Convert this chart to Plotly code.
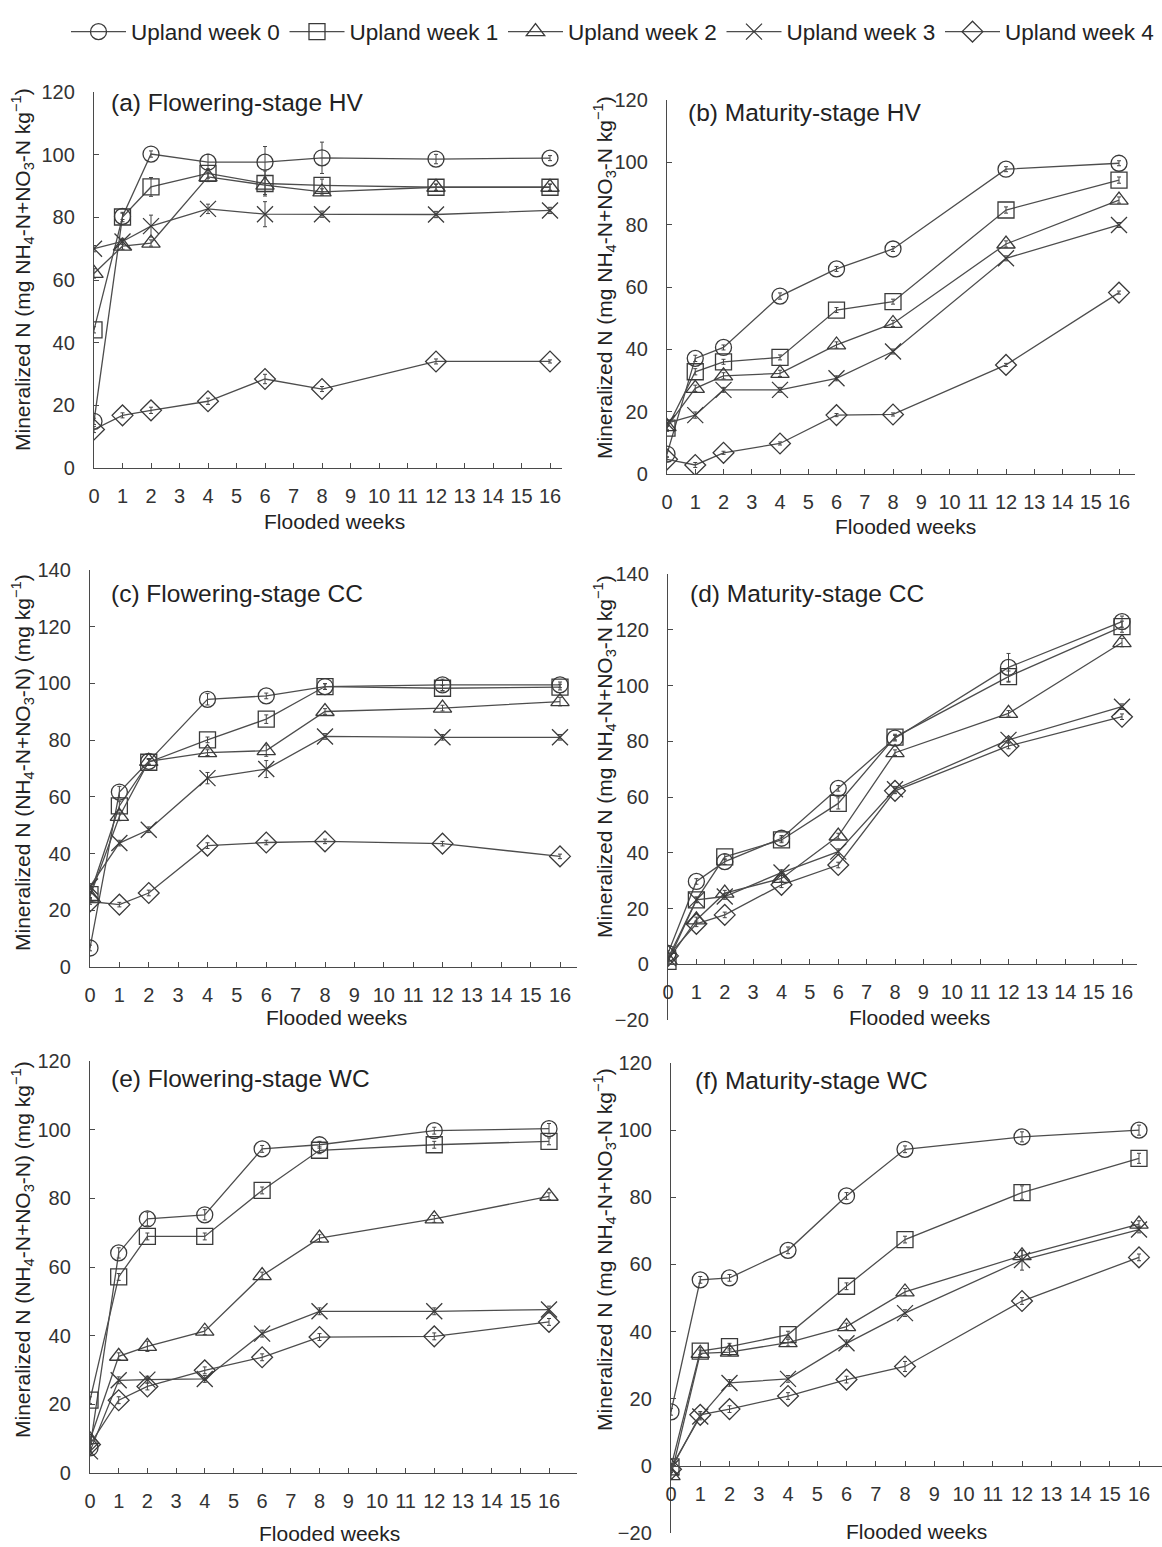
import plotly.graph_objects as go

W, H = 1162, 1547

weeks = [0, 1, 2, 4, 6, 8, 12, 16]
series_names = ["Upland week 0", "Upland week 1", "Upland week 2", "Upland week 3", "Upland week 4"]
symbols = ["circle-open", "square-open", "triangle-up-open", "x-thin-open", "diamond-open"]

# (a) Flowering-stage HV
a_week0 = [14.9, 80.3, 100.2, 97.6, 97.6, 99.0, 98.6, 98.9]
a_week1 = [44.1, 80.1, 89.7, 94.0, 90.8, 90.2, 89.6, 89.6]
a_week2 = [62.1, 70.8, 71.8, 92.9, 90.3, 88.1, 89.6, 89.6]
a_week3 = [70.0, 72.3, 77.2, 82.7, 81.0, 81.0, 80.9, 82.2]
a_week4 = [12.3, 16.8, 18.4, 21.3, 28.4, 25.2, 34.0, 34.0]
# (b) Maturity-stage HV
b_week0 = [6.4, 37.1, 40.6, 57.1, 65.8, 72.2, 97.8, 99.7]
b_week1 = [14.7, 32.8, 36.0, 37.4, 52.6, 55.3, 84.7, 94.3]
b_week2 = [15.2, 27.5, 31.5, 32.3, 41.4, 48.3, 73.8, 87.9]
b_week3 = [16.3, 18.9, 27.0, 27.0, 30.7, 39.3, 69.2, 79.9]
b_week4 = [4.7, 2.9, 6.8, 9.8, 18.9, 19.1, 35.0, 58.2]
# (c) Flowering-stage CC
c_week0 = [6.7, 61.7, 72.5, 94.4, 95.6, 98.9, 99.5, 99.5]
c_week1 = [25.5, 56.8, 72.2, 80.1, 87.4, 98.9, 98.3, 98.7]
c_week2 = [24.9, 53.1, 72.5, 75.6, 76.3, 90.1, 91.3, 93.6]
c_week3 = [28.4, 43.7, 48.4, 66.6, 69.8, 81.3, 81.0, 81.0]
c_week4 = [23.1, 22.0, 26.1, 42.8, 43.9, 44.3, 43.5, 39.0]
# (d) Maturity-stage CC
d_week0 = [3.9, 29.7, 36.8, 45.2, 63.1, 81.1, 106.5, 122.9]
d_week1 = [1.0, 23.1, 38.5, 44.6, 57.7, 81.5, 103.2, 121.1]
d_week2 = [1.5, 15.9, 25.5, 30.8, 46.0, 75.9, 90.0, 115.4]
d_week3 = [2.2, 23.1, 24.3, 32.9, 40.4, 62.8, 80.5, 92.4]
d_week4 = [3.0, 14.5, 17.7, 28.5, 35.6, 62.2, 78.3, 88.8]
# (e) Flowering-stage WC
e_week0 = [7.3, 64.1, 74.0, 75.2, 94.4, 95.6, 99.7, 100.3]
e_week1 = [21.2, 57.1, 68.9, 68.9, 82.3, 94.0, 95.6, 96.6]
e_week2 = [9.7, 34.0, 36.9, 41.3, 57.5, 68.4, 74.0, 80.6]
e_week3 = [6.3, 27.0, 27.2, 27.4, 40.6, 47.1, 47.1, 47.6]
e_week4 = [8.3, 21.2, 25.2, 29.9, 33.7, 39.6, 39.8, 44.0]
# (f) Maturity-stage WC
f_week0 = [16.1, 55.4, 56.0, 64.2, 80.4, 94.3, 98.0, 100.0]
f_week1 = [-0.3, 34.2, 35.5, 39.1, 53.5, 67.4, 81.4, 91.6]
f_week2 = [-2.9, 33.5, 33.9, 36.7, 41.5, 51.8, 62.6, 72.0]
f_week3 = [-0.5, 14.7, 24.7, 25.9, 36.5, 45.5, 61.3, 70.4]
f_week4 = [-1.0, 15.2, 16.9, 20.8, 25.7, 29.6, 49.1, 62.1]

# standard errors (one row per series)
a_err = [[1, 1, 1, 2.5, 5, 5, 1.5, 0.8], [1, 1.5, 3, 1.5, 4, 2, 1, 1], [1.5, 1, 1, 1.5, 3, 1, 1, 1],
         [1, 1, 3.5, 1.5, 4, 1, 1, 1], [1, 0.8, 1, 1, 1.5, 0.8, 0.8, 0.5]]
b_err = [[1, 1, 0.8, 1, 0.8, 0.8, 0.8, 0.8], [1, 1, 0.8, 0.8, 0.8, 0.8, 1, 1], [1, 1, 1, 1, 1, 1, 1, 1],
         [1, 1, 0.8, 0.8, 0.8, 0.8, 0.8, 0.8], [0.8, 0.8, 0.5, 0.5, 0.5, 0.5, 0.5, 0.5]]
c_err = [[1, 2, 1, 2, 1, 1, 2, 1], [1, 1.5, 1, 1, 1.5, 1, 1, 1], [1, 1.5, 1, 1, 2, 1, 1, 1.5],
         [1, 1, 1, 2, 3, 1, 1, 1], [1, 0.8, 1, 1, 0.8, 0.8, 0.8, 0.8]]
d_err = [[1, 1, 1, 1, 1, 1, 5, 2], [1, 1, 1, 1, 2, 1, 2, 2], [1, 1, 1, 1, 1, 1, 1, 1.5],
         [1, 1, 1, 1, 1, 1, 1, 1], [1, 1, 1, 1, 1, 1, 1, 1]]
e_err = [[1, 1.5, 2, 1.5, 1, 1, 1, 1.5], [1, 1, 1, 1, 1, 1, 1, 1], [1, 1, 1.5, 1, 1, 1, 1, 1],
         [1, 1, 1, 1, 1, 1, 1, 1], [1, 1, 1, 1, 1, 1, 1, 1]]
f_err = [[1, 1, 1, 1, 1, 1, 1.5, 1.5], [1, 1, 1, 1, 1, 1, 2, 1.5], [1, 1, 1, 1, 1, 1, 1.5, 1],
         [1, 1, 1, 1, 1, 1, 3, 1], [1, 1, 1, 1, 1, 1.5, 1, 1]]

panel_titles = ["(a) Flowering-stage HV", "(b) Maturity-stage HV", "(c) Flowering-stage CC",
                "(d) Maturity-stage CC", "(e) Flowering-stage WC", "(f) Maturity-stage WC"]
ytitle_long = "Mineralized N (mg NH<sub>4</sub>-N+NO<sub>3</sub>-N kg<sup>\u22121</sup>)"
ytitle_short = "Mineralized N (NH<sub>4</sub>-N+NO<sub>3</sub>-N) (mg kg<sup>\u22121</sup>)"
y_titles = [ytitle_long, ytitle_long, ytitle_short, ytitle_long, ytitle_short, ytitle_long]
x_title = "Flooded weeks"
y_ranges = [[0, 120], [0, 120], [0, 140], [-20, 140], [0, 120], [-20, 120]]
x_tickvals = list(range(0, 17))

panel_data = [
    [a_week0, a_week1, a_week2, a_week3, a_week4],
    [b_week0, b_week1, b_week2, b_week3, b_week4],
    [c_week0, c_week1, c_week2, c_week3, c_week4],
    [d_week0, d_week1, d_week2, d_week3, d_week4],
    [e_week0, e_week1, e_week2, e_week3, e_week4],
    [f_week0, f_week1, f_week2, f_week3, f_week4],
]
panel_err = [a_err, b_err, c_err, d_err, e_err, f_err]

# ---- layout geometry (pixels) ----
geom = [
    dict(x0=94, x1=562, x16=550, ytop=92, ybot=468, title=(109, 103), ytl=(22, 270), xtl=(334, 521)),
    dict(x0=667, x1=1135, x16=1119, ytop=100, ybot=474, title=(686, 113), ytl=(604, 278), xtl=(905, 526)),
    dict(x0=90, x1=577, x16=560, ytop=570, ybot=967, title=(109, 593), ytl=(22, 763), xtl=(337, 1017)),
    dict(x0=668, x1=1137, x16=1122, ytop=574, ybot=1020, title=(688, 593), ytl=(604, 757), xtl=(920, 1017)),
    dict(x0=90, x1=577, x16=549, ytop=1061, ybot=1473, title=(109, 1078), ytl=(22, 1250), xtl=(329, 1533)),
    dict(x0=671, x1=1162, x16=1139, ytop=1063, ybot=1533, title=(693, 1080), ytl=(604, 1250), xtl=(916, 1531)),
]

def px_x(p):
    return p / W

def px_y(p):
    return 1 - p / H

AX = "#4a4a4a"
LINE = "#4d4d4d"
MK = "#3a3a3a"
FONT = "Liberation Sans, Arial, sans-serif"

fig = go.Figure()
layout = dict(width=W, height=H, margin=dict(l=0, r=0, t=0, b=0, pad=0), paper_bgcolor="white",
              plot_bgcolor="white", font=dict(family=FONT, color="#222"), showlegend=True)
annotations = []

for i, g in enumerate(geom):
    n = i + 1
    xa = "x" if n == 1 else f"x{n}"
    ya = "y" if n == 1 else f"y{n}"
    xkey = "xaxis" if n == 1 else f"xaxis{n}"
    ykey = "yaxis" if n == 1 else f"yaxis{n}"
    per = (g["x16"] - g["x0"]) / 16.0
    xmax = (g["x1"] - g["x0"]) / per
    ymin, ymax = y_ranges[i]
    xaxis = dict(domain=[px_x(g["x0"]), px_x(g["x1"])], range=[0, xmax], tickmode="array",
                 tickvals=x_tickvals, ticks="inside", ticklen=5, tickwidth=1.2, tickcolor=AX,
                 showline=True, linecolor=AX, linewidth=1.4, showgrid=False, zeroline=False,
                 tickfont=dict(size=20, color="#333"), ticklabelstandoff=10, anchor=ya,
                 automargin=False, ticklabeloverflow="allow")
    if ymin < 0:
        # x axis crosses the y axis at zero
        zero_px = g["ytop"] + (ymax / (ymax - ymin)) * (g["ybot"] - g["ytop"])
        xaxis["anchor"] = "free"
        xaxis["position"] = px_y(zero_px)
    yaxis = dict(domain=[px_y(g["ybot"]), px_y(g["ytop"])], range=y_ranges[i], dtick=20,
                 tick0=0, ticks="inside", ticklen=5, tickwidth=1.2, tickcolor=AX, showline=True,
                 linecolor=AX, linewidth=1.4, showgrid=False, zeroline=False,
                 tickfont=dict(size=20, color="#333"), ticklabelstandoff=14, anchor=xa,
                 automargin=False, ticklabeloverflow="allow")
    layout[xkey] = xaxis
    layout[ykey] = yaxis

    for s in range(5):
        fig.add_trace(go.Scatter(
            x=weeks, y=panel_data[i][s], xaxis=xa, yaxis=ya, mode="lines+markers",
            name=series_names[s], showlegend=False,
            line=dict(color=LINE, width=1.3),
            marker=dict(symbol=symbols[s], size=16, color=MK, line=dict(width=1.3, color=MK)),
            error_y=dict(type="data", array=panel_err[i][s], visible=True, color="#444",
                         thickness=1, width=2),
        ))

    annotations.append(dict(text=panel_titles[i], x=px_x(g["title"][0]), y=px_y(g["title"][1]),
                            xref="paper", yref="paper", xanchor="left", yanchor="middle",
                            showarrow=False, font=dict(size=24.5, color="#222")))
    annotations.append(dict(text=y_titles[i], x=px_x(g["ytl"][0]), y=px_y(g["ytl"][1]),
                            xref="paper", yref="paper", xanchor="center", yanchor="middle",
                            textangle=-90, showarrow=False, font=dict(size=21, color="#222")))
    annotations.append(dict(text=x_title, x=px_x(g["xtl"][0]), y=px_y(g["xtl"][1]),
                            xref="paper", yref="paper", xanchor="center", yanchor="middle",
                            showarrow=False, font=dict(size=21, color="#222")))

# legend-only traces
for s in range(5):
    fig.add_trace(go.Scatter(
        x=[None], y=[None], xaxis="x", yaxis="y", mode="lines+markers", name=series_names[s],
        line=dict(color=LINE, width=1.3),
        marker=dict(symbol=symbols[s], size=20, color=MK, line=dict(width=1.3, color=MK)),
    ))

layout["annotations"] = annotations
layout["legend"] = dict(orientation="h", x=px_x(66), xanchor="left", y=px_y(32), yanchor="middle",
                        font=dict(size=22.5, color="#222"), itemwidth=55, entrywidth=148.5,
                        entrywidthmode="pixels", bgcolor="rgba(0,0,0,0)", borderwidth=0)
fig.update_layout(**layout)
fig.write_html("out.html")
